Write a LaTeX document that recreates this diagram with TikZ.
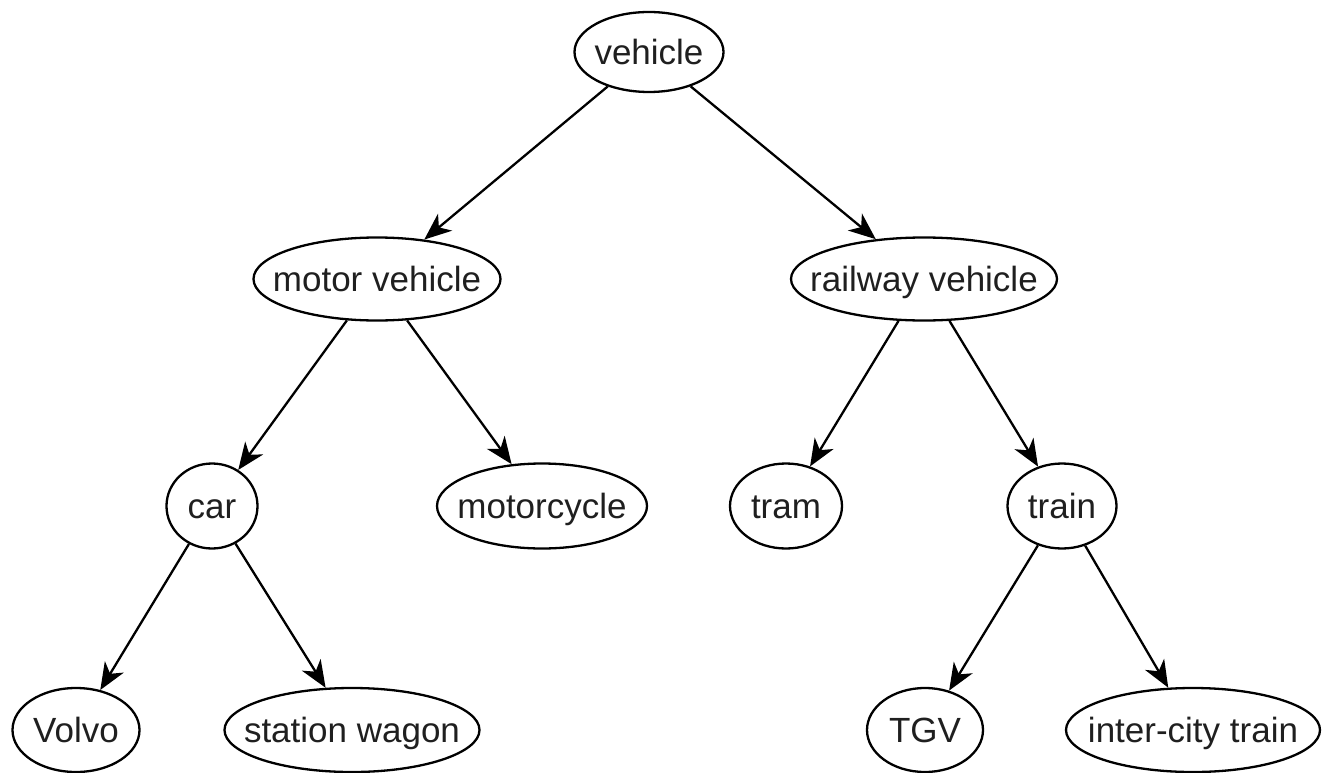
\documentclass[tikz,border=0pt]{standalone}
\usepackage{fontspec}
\setmainfont{Liberation Sans}
\usetikzlibrary{shapes.geometric,arrows.meta}
\begin{document}
\begin{tikzpicture}[x=1pt,y=-1pt,
  concept/.style={draw=black, ellipse, line width=2.3pt, inner sep=0pt,
    text height=29pt, text depth=4pt,
    font=\fontsize{35}{35}\selectfont, text=black!88},
  link/.style={line width=2.3pt, -{Stealth[length=27pt,width=22pt,inset=8pt]}}]
\useasboundingbox (0,0) rectangle (1322,773);
% tree nodes: the ellipse size is fixed, the label does not widen it
\node[concept, minimum width=149, minimum height=80] (veh) at (649,52) {\makebox[0pt]{vehicle}};
\node[concept, minimum width=247, minimum height=83] (mot) at (377,279) {\makebox[0pt]{motor vehicle}};
\node[concept, minimum width=266, minimum height=83] (rail) at (924,279) {\makebox[0pt]{railway vehicle}};
\node[concept, minimum width=91, minimum height=85] (car) at (212,506) {\makebox[0pt]{car}};
\node[concept, minimum width=210, minimum height=85] (moto) at (542,506) {\makebox[0pt]{motorcycle}};
\node[concept, minimum width=112, minimum height=85] (tram) at (786,506) {\makebox[0pt]{tram}};
\node[concept, minimum width=109, minimum height=85] (train) at (1062,506) {\makebox[0pt]{train}};
\node[concept, minimum width=127, minimum height=84] (volvo) at (76,730) {\makebox[0pt]{Volvo}};
\node[concept, minimum width=255, minimum height=84] (wagon) at (352,730) {\makebox[0pt]{station wagon}};
\node[concept, minimum width=116, minimum height=84] (tgv) at (925,730) {\makebox[0pt]{TGV}};
\node[concept, minimum width=254, minimum height=84] (ic) at (1193,730) {\makebox[0pt]{inter-city train}};
% is-a links
\draw[link] (veh) -- (mot);
\draw[link] (veh) -- (rail);
\draw[link] (mot) -- (car);
\draw[link] (mot) -- (moto);
\draw[link] (rail) -- (tram);
\draw[link] (rail) -- (train);
\draw[link] (car) -- (volvo);
\draw[link] (car) -- (wagon);
\draw[link] (train) -- (tgv);
\draw[link] (train) -- (ic);
\end{tikzpicture}
\end{document}
